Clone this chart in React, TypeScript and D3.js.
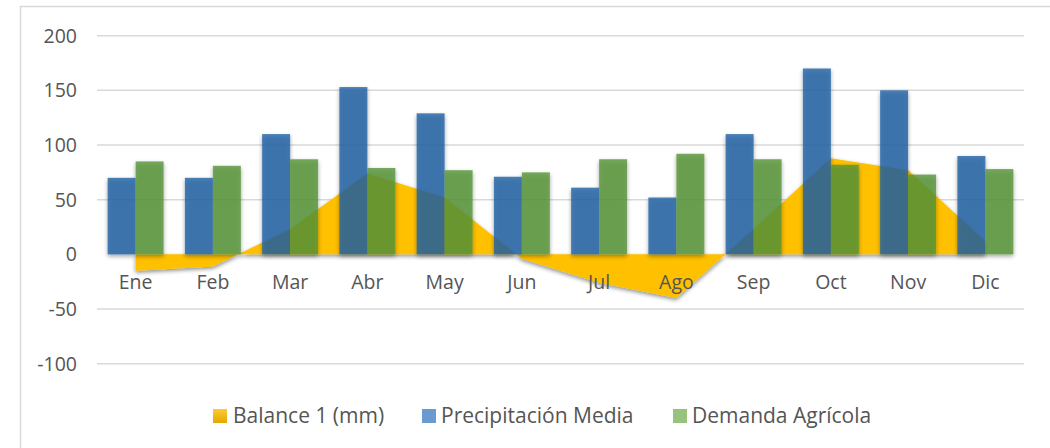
import React from 'react';
import * as d3 from 'd3';

// Monthly values (mm)
const months = ['Ene', 'Feb', 'Mar', 'Abr', 'May', 'Jun', 'Jul', 'Ago', 'Sep', 'Oct', 'Nov', 'Dic'];
const precipitacion = [70, 70, 110, 153, 129, 71, 61, 52, 110, 170, 150, 90];
const demanda = [85, 81, 87, 79, 77, 75, 87, 92, 87, 82, 73, 78];
const balance = [-15, -11, 23, 74, 52, -4, -26, -40, 23, 88, 77, 12];
const yTicks = [-100, -50, 0, 50, 100, 150, 200];
const seriesNames = ['Balance 1 (mm)', 'Precipitación Media', 'Demanda Agrícola'];

const width = 1050;
const height = 448;
const font = "'Open Sans', 'Noto Sans', sans-serif";
const textColor = '#555555';

export default function App() {
  // Scales
  const x = d3.scaleBand<string>().domain(months).range([97, 1024]).paddingInner(0).paddingOuter(0);
  const x1 = d3.scaleBand<string>().domain(['p', 'd']).range([0, x.bandwidth()]).paddingInner(0).paddingOuter(0.38);
  const y = d3.scaleLinear().domain([-100, 200]).range([363.7, 35.7]);

  const area = d3.area<number>()
    .x((_, i) => (x(months[i]) as number) + x.bandwidth() / 2)
    .y0(y(0))
    .y1(d => y(d));

  const legendItems = [
    { label: seriesNames[0], fill: 'url(#legendGold)', sq: 213, tx: 233 },
    { label: seriesNames[1], fill: '#6a9bd0', sq: 422, tx: 441 },
    { label: seriesNames[2], fill: '#99c27c', sq: 673, tx: 692 },
  ];

  return (
    <svg width={width} height={height} style={{ position: 'absolute', left: 0, top: 0, background: '#fff' }}>
      <defs>
        <filter id="shadow" x="-20%" y="-20%" width="140%" height="140%">
          <feGaussianBlur in="SourceAlpha" stdDeviation="2" />
          <feOffset dx="0" dy="2" result="blur" />
          <feComponentTransfer>
            <feFuncA type="linear" slope="0.45" />
          </feComponentTransfer>
          <feMerge>
            <feMergeNode />
            <feMergeNode in="SourceGraphic" />
          </feMerge>
        </filter>
        <filter id="axisShadow" x="-5%" y="-300%" width="110%" height="700%">
          <feGaussianBlur in="SourceAlpha" stdDeviation="1.5" />
          <feOffset dx="0" dy="3" result="blur" />
          <feComponentTransfer>
            <feFuncA type="linear" slope="0.6" />
          </feComponentTransfer>
          <feMerge>
            <feMergeNode />
            <feMergeNode in="SourceGraphic" />
          </feMerge>
        </filter>
        <linearGradient id="legendGold" x1="0" y1="0" x2="0" y2="1">
          <stop offset="0" stopColor="#ffc934" />
          <stop offset="1" stopColor="#e2a800" />
        </linearGradient>
      </defs>

      {/* chart border */}
      <rect x={20.5} y={6.5} width={1100} height={500} fill="#fff" stroke="#d9d9d9" strokeWidth={1.5} />

      {/* gridlines */}
      {yTicks.filter(t => t !== 0).map(t => (
        <line key={t} x1={97} x2={1024} y1={y(t)} y2={y(t)} stroke="#d9d9d9" strokeWidth={1.5} />
      ))}

      {/* y tick labels */}
      {yTicks.map(t => (
        <text key={t} x={77} y={y(t)} dy="0.36em" textAnchor="end" fontFamily={font} fontSize={19.5} fill={textColor}>
          {t}
        </text>
      ))}

      {/* balance area */}
      <path d={area(balance) as string} fill="#ffc000" filter="url(#shadow)" />

      {/* bars */}
      <g filter="url(#shadow)">
        {months.map((m, i) => (
          <g key={m} transform={`translate(${x(m)},0)`}>
            <rect x={x1('p')} width={x1.bandwidth()} y={y(precipitacion[i])} height={y(0) - y(precipitacion[i])}
              fill="rgb(30,98,165)" fillOpacity={0.8} />
            <rect x={x1('d')} width={x1.bandwidth()} y={y(demanda[i])} height={y(0) - y(demanda[i])}
              fill="rgb(86,149,55)" fillOpacity={0.8} />
          </g>
        ))}
      </g>

      {/* zero axis */}
      <line x1={97} x2={1024} y1={y(0)} y2={y(0)} stroke="#cccccc" strokeWidth={2} filter="url(#axisShadow)" />

      {/* category labels */}
      {months.map(m => (
        <text key={m} x={(x(m) as number) + x.bandwidth() / 2} y={289} textAnchor="middle"
          fontFamily={font} fontSize={19.5} fill={textColor}>
          {m}
        </text>
      ))}

      {/* legend */}
      {legendItems.map(it => (
        <g key={it.label}>
          <rect x={it.sq} y={409} width={14} height={14} fill={it.fill} />
          <text x={it.tx} y={423} fontFamily={font} fontSize={21} fill={textColor}>{it.label}</text>
        </g>
      ))}
    </svg>
  );
}
